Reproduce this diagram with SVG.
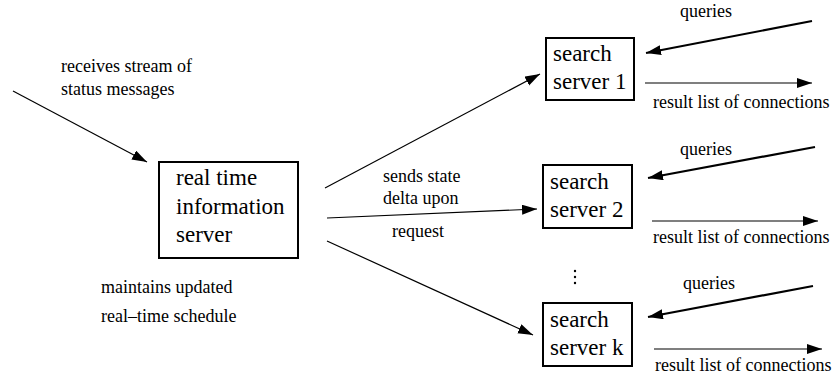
<svg xmlns="http://www.w3.org/2000/svg" width="835" height="383" viewBox="0 0 835 383">
  <style>
    .txt { font-family: "Liberation Serif", Tinos, "Nimbus Roman", "Nimbus Roman No9 L", FreeSerif, "Noto Serif", "DejaVu Serif", "Times New Roman", Times, serif; fill: #000; }
    .big { font-size: 23px; }
    .small { font-size: 18px; }
    .box { fill: #fff; stroke: #000; stroke-width: 2; }
    .thin { stroke: #000; stroke-width: 1.2; fill: none; }
    .thick { stroke: #000; stroke-width: 2.2; fill: none; }
  </style>
  <defs>
    <marker id="arrow" markerUnits="userSpaceOnUse" markerWidth="16" markerHeight="12" refX="15" refY="5" orient="auto">
      <path d="M0,0 L15,5 L0,10 z" fill="#000"/>
    </marker>
  </defs>

  <!-- connectors -->
  <g id="connectors">
    <line class="thin" x1="13" y1="91" x2="147" y2="162" marker-end="url(#arrow)"/>
    <line class="thin" x1="325" y1="188" x2="540" y2="74" marker-end="url(#arrow)"/>
    <line class="thin" x1="327" y1="218" x2="537" y2="209" marker-end="url(#arrow)"/>
    <line class="thin" x1="327" y1="241" x2="533" y2="335" marker-end="url(#arrow)"/>

    <line class="thick" x1="812" y1="21" x2="646" y2="53" marker-end="url(#arrow)"/>
    <line class="thin" x1="645" y1="83" x2="812" y2="83" marker-end="url(#arrow)"/>

    <line class="thick" x1="815" y1="147" x2="648" y2="178" marker-end="url(#arrow)"/>
    <line class="thin" x1="652" y1="221" x2="818" y2="221" marker-end="url(#arrow)"/>

    <line class="thick" x1="813" y1="286" x2="648" y2="317" marker-end="url(#arrow)"/>
    <line class="thin" x1="654" y1="349" x2="822" y2="349" marker-end="url(#arrow)"/>
  </g>

  <!-- connector labels -->
  <g id="labels" class="txt small">
    <text x="61" y="72">receives stream of</text>
    <text x="61" y="95">status messages</text>
    <text x="101" y="293">maintains updated</text>
    <text x="101" y="322">real–time schedule</text>
    <text x="383" y="182">sends state</text>
    <text x="383" y="204">delta upon</text>
    <text x="392" y="237">request</text>
    <text x="680" y="17">queries</text>
    <text x="653" y="108">result list of connections</text>
    <text x="680" y="155">queries</text>
    <text x="653" y="243">result list of connections</text>
    <text x="683" y="289">queries</text>
    <text x="655" y="371">result list of connections</text>
  </g>

  <!-- vertical ellipsis between server 2 and server k -->
  <g id="ellipsis" fill="#000">
    <circle cx="575" cy="271" r="1.2"/>
    <circle cx="575" cy="277" r="1.2"/>
    <circle cx="575" cy="283" r="1.2"/>
  </g>

  <g id="rtis" class="txt big">
    <rect class="box" x="159" y="162" width="139" height="96"/>
    <text x="176" y="185">real time</text>
    <text x="176" y="214">information</text>
    <text x="176" y="242">server</text>
  </g>

  <g id="search1" class="txt big">
    <rect class="box" x="546" y="38" width="88" height="62"/>
    <text x="553" y="61">search</text>
    <text x="553" y="89">server 1</text>
  </g>

  <g id="search2" class="txt big">
    <rect class="box" x="543" y="165" width="89" height="63"/>
    <text x="550" y="189">search</text>
    <text x="550" y="217">server 2</text>
  </g>

  <g id="searchk" class="txt big">
    <rect class="box" x="543" y="303" width="89" height="63"/>
    <text x="550" y="327">search</text>
    <text x="550" y="355">server k</text>
  </g>
</svg>
